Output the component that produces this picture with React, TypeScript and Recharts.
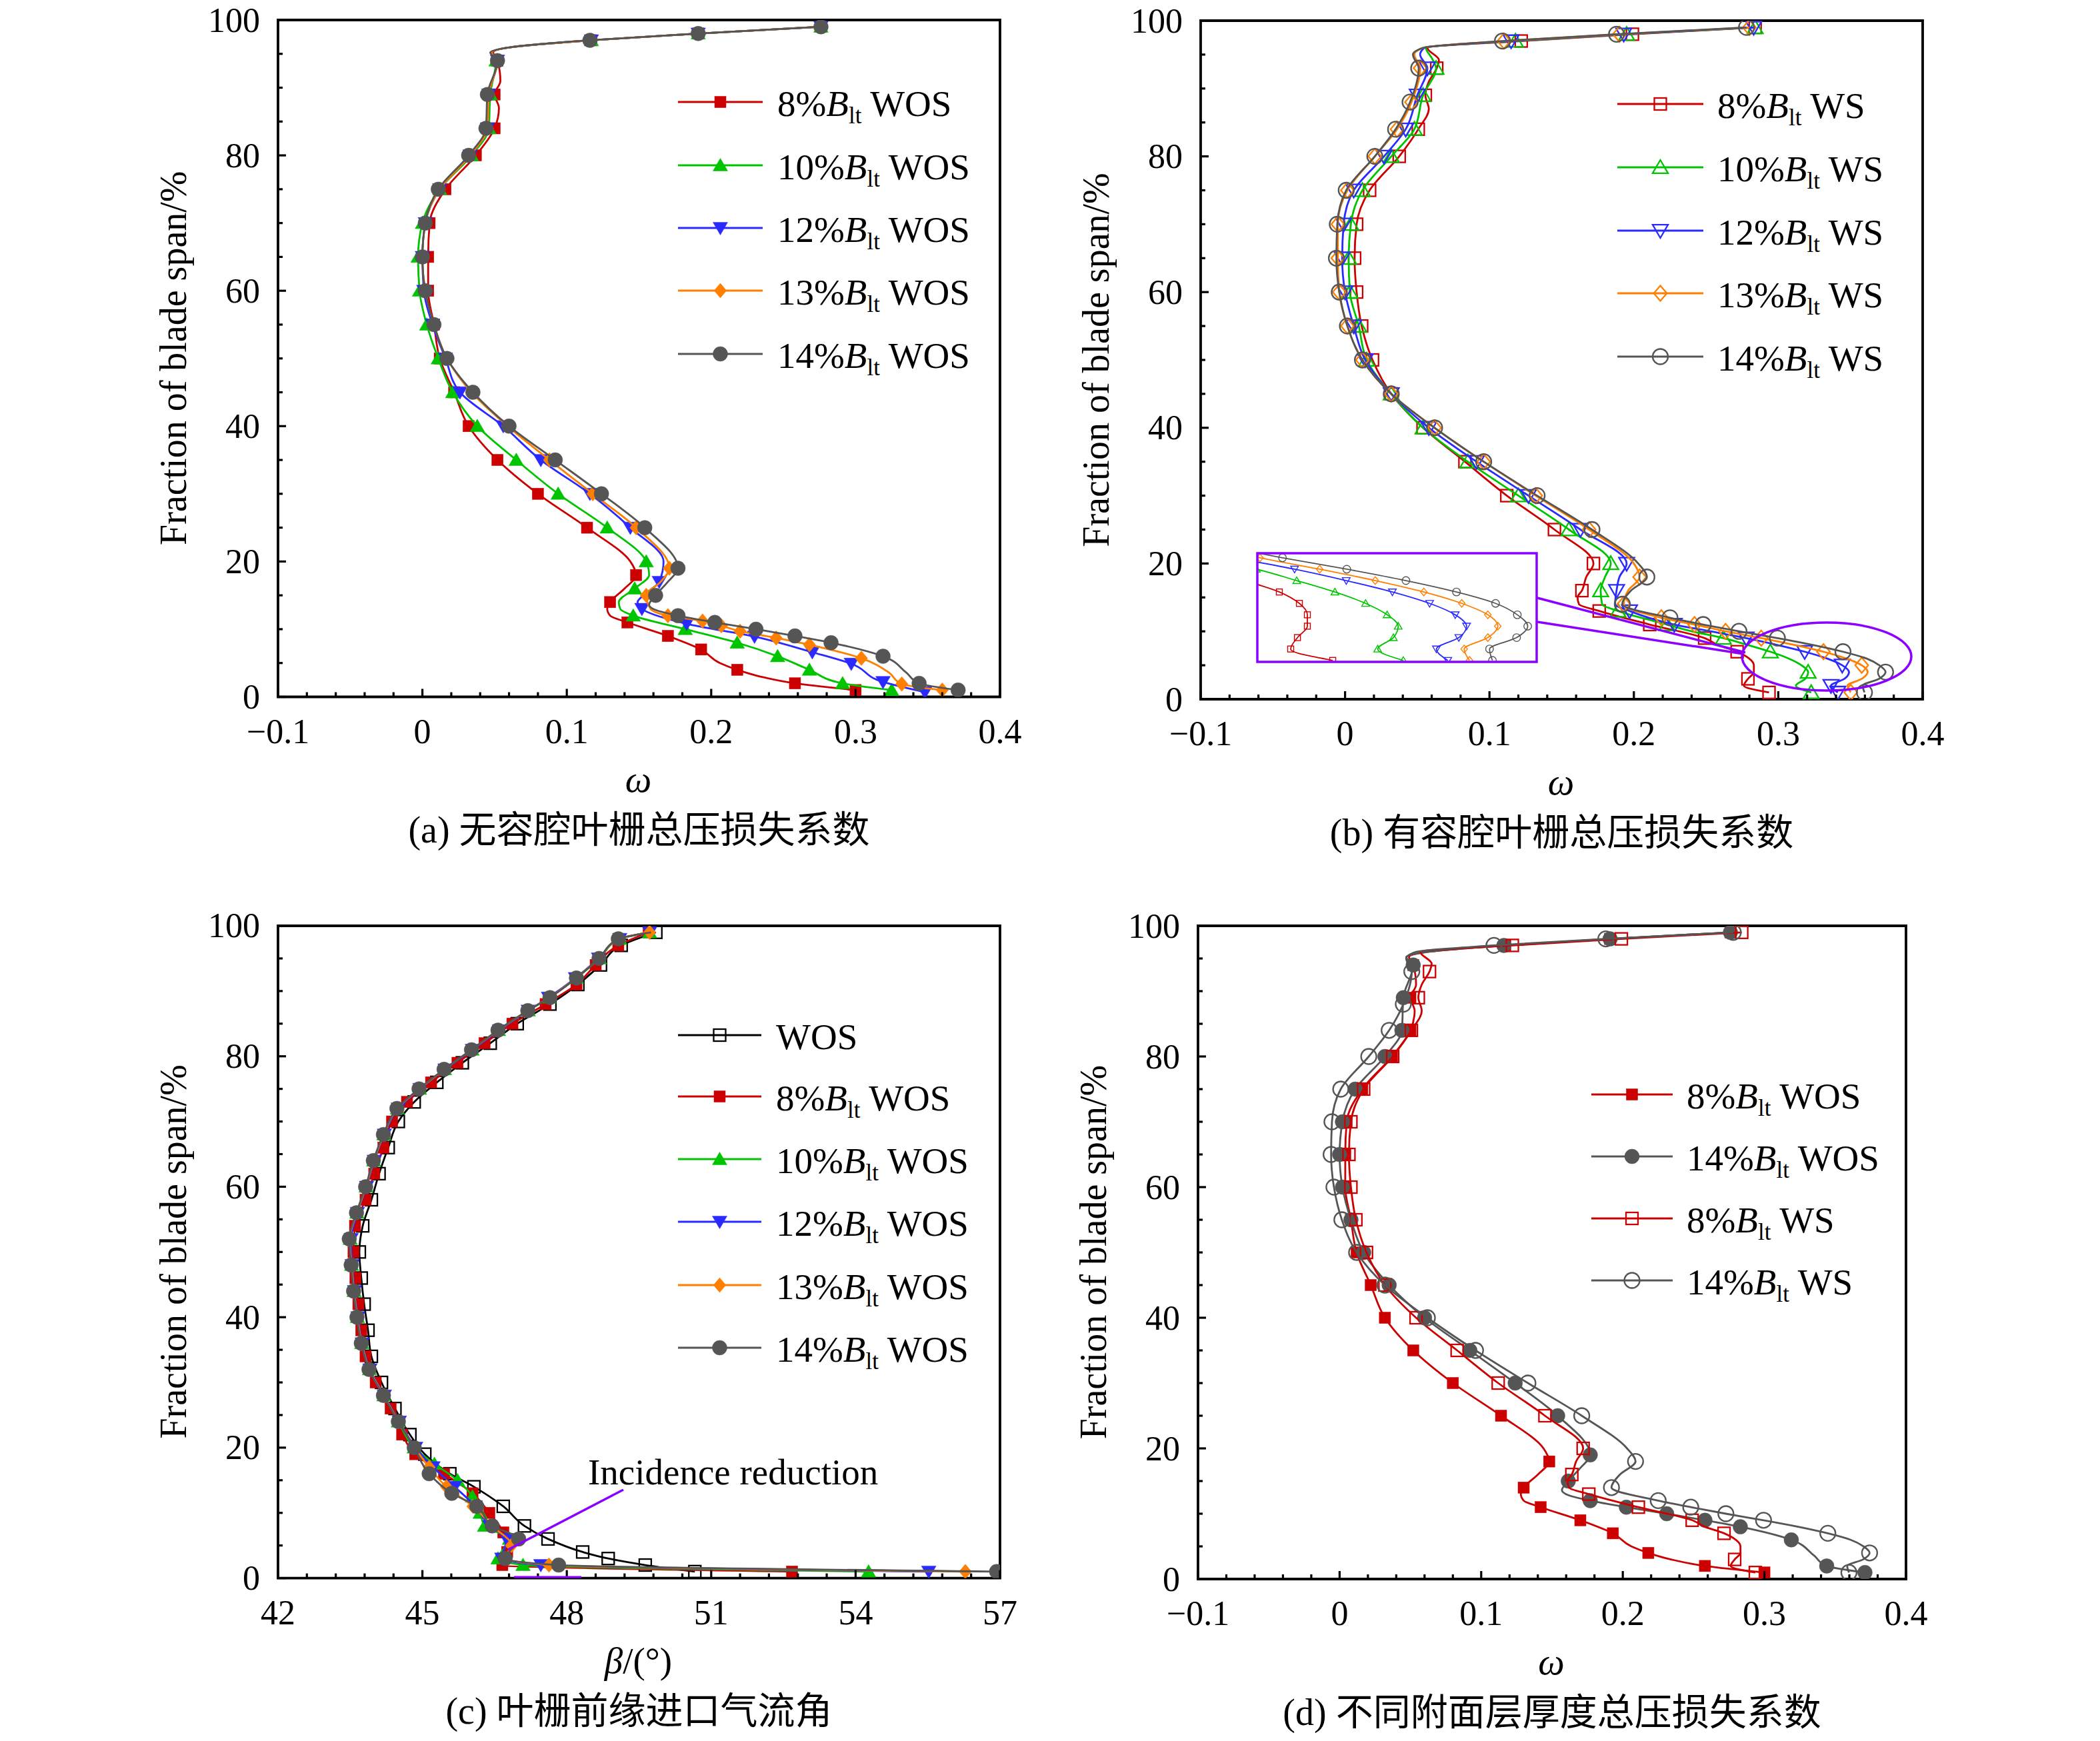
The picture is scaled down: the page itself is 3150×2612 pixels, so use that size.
import React from 'react';
import { ScatterChart, Scatter, XAxis, YAxis, ReferenceArea } from 'recharts';

// every profile point is [span %, value]
type P = [number, number];

// (a) total pressure loss, cascade without slot
const wos8: P[] = [
  [99, 0.276], [98, 0.191], [97, 0.117], [96, 0.062], [95.2, 0.049], [94, 0.052], [91, 0.054], [89, 0.05],
  [87, 0.053], [84, 0.05], [80, 0.037], [75, 0.016], [70, 0.005], [65, 0.004], [60, 0.004], [55, 0.008],
  [50, 0.012], [45, 0.022], [40, 0.032], [35, 0.052], [30, 0.08], [25, 0.114], [20, 0.144], [18, 0.148],
  [16, 0.14], [14, 0.13], [13, 0.128], [12, 0.13], [11, 0.142], [9, 0.17], [7, 0.193], [5, 0.206],
  [4, 0.218], [3, 0.234], [2, 0.258], [1, 0.3],
];
const wos8Marks = [99, 98, 97, 94, 89, 84, 80, 75, 70, 65, 60, 55, 50, 45, 40, 35, 30, 25, 18, 14, 11, 9, 7, 4, 2, 1];

const wos10: P[] = [
  [99, 0.276], [98, 0.191], [97, 0.117], [96, 0.062], [95.2, 0.048], [94, 0.051], [89, 0.047], [84, 0.046],
  [80, 0.034], [75, 0.012], [70, 0.0], [65, -0.003], [60, -0.002], [55, 0.003], [50, 0.011], [45, 0.021],
  [40, 0.038], [35, 0.065], [30, 0.094], [25, 0.128], [20, 0.155], [18, 0.157], [16, 0.147], [14, 0.136],
  [13, 0.137], [12, 0.146], [10, 0.182], [8, 0.218], [6, 0.246], [4, 0.268], [2, 0.291], [1, 0.325],
];
const wos10Marks = [99, 98, 97, 94, 89, 84, 80, 75, 70, 65, 60, 55, 50, 45, 40, 35, 30, 25, 20, 16, 12, 10, 8, 6, 4, 2, 1];

const wos12: P[] = [
  [99, 0.276], [98, 0.191], [97, 0.117], [96, 0.062], [95.2, 0.048], [94, 0.052], [89, 0.046], [84, 0.045],
  [80, 0.033], [75, 0.012], [70, 0.002], [65, 0.0], [60, 0.001], [55, 0.007], [50, 0.016], [45, 0.026],
  [40, 0.056], [35, 0.082], [30, 0.116], [25, 0.144], [20, 0.167], [17, 0.164], [15, 0.153], [14, 0.149],
  [13, 0.152], [10.8, 0.183], [8.9, 0.23], [6.6, 0.27], [4.9, 0.297], [2.2, 0.319], [0.7, 0.348],
];
const wos12Marks = [99, 98, 97, 94, 89, 84, 80, 75, 70, 65, 60, 55, 50, 45, 40, 35, 30, 25, 17, 13, 10.8, 8.9, 6.6, 4.9, 2.2, 0.7];

const wos13: P[] = [
  [99, 0.276], [98, 0.191], [97, 0.117], [96, 0.062], [95.2, 0.048], [94, 0.052], [89, 0.046], [84, 0.045],
  [80, 0.033], [75, 0.012], [70, 0.002], [65, 0.0], [60, 0.002], [55, 0.008], [50, 0.017], [45, 0.034],
  [40, 0.059], [35, 0.088], [30, 0.118], [25, 0.148], [19, 0.171], [17, 0.165], [15, 0.155], [13, 0.158],
  [12, 0.17], [11.2, 0.194], [10.5, 0.207], [9.7, 0.22], [8.7, 0.245], [7.7, 0.268], [5.7, 0.304],
  [3.6, 0.323], [1.9, 0.332], [1, 0.36],
];
const wos13Marks = [99, 98, 97, 94, 89, 84, 80, 75, 70, 65, 60, 55, 50, 45, 40, 35, 30, 25, 19, 15, 12, 11.2, 10.5, 9.7, 8.7, 7.7, 5.7, 1.9, 1];

const wos14: P[] = [
  [99, 0.276], [98, 0.191], [97, 0.116], [96, 0.062], [95.2, 0.047], [94, 0.052], [89, 0.045], [84, 0.044],
  [80, 0.032], [75, 0.011], [70, 0.002], [65, 0.0], [60, 0.002], [55, 0.008], [50, 0.017], [45, 0.035],
  [40, 0.06], [35, 0.092], [30, 0.124], [25, 0.154], [19, 0.177], [17, 0.17], [15, 0.1615], [13.6, 0.157],
  [12.8, 0.162], [12, 0.177], [11, 0.2025], [10, 0.231], [9, 0.258], [8, 0.283], [6, 0.319], [3.6, 0.335],
  [2, 0.344], [1, 0.371],
];
const wos14Marks = [99, 98, 97, 94, 89, 84, 80, 75, 70, 65, 60, 55, 50, 45, 40, 35, 30, 25, 19, 15, 12, 11, 10, 9, 8, 6, 2, 1];

// (b) total pressure loss, cascade with slot
const ws8: P[] = [
  [99, 0.284], [98, 0.199], [97, 0.122], [96, 0.057], [94.2, 0.065], [93, 0.0635], [91, 0.058], [89, 0.0556],
  [87, 0.058], [84, 0.0507], [80, 0.0375], [75, 0.017], [70, 0.008], [65, 0.0066], [60, 0.008], [55, 0.0115],
  [50, 0.019], [45, 0.032], [40, 0.054], [35, 0.083], [30, 0.112], [25, 0.145], [20, 0.172], [18, 0.167],
  [16, 0.164], [15, 0.161], [14, 0.162], [13, 0.176], [11, 0.211], [9, 0.249], [8, 0.258], [7, 0.2715],
  [6, 0.2798], [5, 0.2831], [4, 0.2831], [3, 0.279], [2, 0.2762], [1, 0.2936],
];
const ws8Marks = [99, 98, 97, 93, 89, 84, 80, 75, 70, 65, 60, 55, 50, 45, 40, 35, 30, 25, 20, 16, 13, 11, 9, 7, 3, 1];

const ws10: P[] = [
  [99, 0.284], [98, 0.195], [97, 0.118], [96, 0.056], [94.5, 0.06], [93, 0.063], [89, 0.054], [84, 0.048],
  [80, 0.032], [75, 0.012], [70, 0.004], [65, 0.0025], [60, 0.0033], [55, 0.0095], [50, 0.015], [45, 0.032],
  [40, 0.054], [35, 0.085], [30, 0.12], [25, 0.155], [20, 0.184], [18, 0.18], [16, 0.177], [14, 0.178],
  [13, 0.189], [11, 0.223], [10, 0.24], [9, 0.262], [8, 0.2787], [7, 0.2945], [6, 0.3072], [5, 0.3161],
  [4, 0.3207], [3, 0.3187], [2, 0.3122], [1, 0.3228],
];
const ws10Marks = [99, 98, 97, 93, 89, 84, 80, 75, 70, 65, 60, 55, 50, 45, 40, 35, 30, 25, 20, 16, 13, 11, 9, 7, 4, 1];

const ws12: P[] = [
  [99, 0.283], [98, 0.193], [97, 0.115], [96, 0.055], [95, 0.052], [93, 0.057], [89, 0.05], [84, 0.042],
  [80, 0.027], [75, 0.006], [70, -0.001], [65, -0.002], [60, 0.0], [55, 0.006], [50, 0.014], [45, 0.032],
  [40, 0.058], [35, 0.091], [30, 0.127], [25, 0.163], [20, 0.195], [18, 0.19], [16, 0.188], [14, 0.187],
  [13, 0.197], [11, 0.228], [10, 0.253], [9, 0.2778], [8, 0.2992], [7, 0.3183], [6, 0.3337], [5, 0.3443],
  [4, 0.349], [3, 0.3458], [2, 0.3365], [1, 0.3412],
];
const ws12Marks = [99, 98, 97, 93, 89, 84, 80, 75, 70, 65, 60, 55, 50, 45, 40, 35, 30, 25, 20, 16, 13, 11, 9, 7, 5, 2, 1];

const ws13: P[] = [
  [99, 0.28], [98, 0.19], [97, 0.11], [96, 0.054], [95, 0.048], [93, 0.052], [88, 0.046], [84, 0.036],
  [80, 0.0206], [75, 0.0016], [70, -0.005], [65, -0.005], [60, -0.004], [55, 0.0016], [50, 0.012], [45, 0.032],
  [40, 0.062], [35, 0.096], [30, 0.132], [25, 0.169], [20, 0.2], [18, 0.204], [16, 0.196], [14, 0.193],
  [12, 0.219], [11, 0.242], [10, 0.2635], [9, 0.2882], [8, 0.3112], [7, 0.3313], [6, 0.347], [5, 0.3578],
  [4, 0.3619], [3, 0.3578], [2, 0.348], [1, 0.3502],
];
const ws13Marks = [99, 98, 97, 93, 88, 84, 80, 75, 70, 65, 60, 55, 50, 45, 40, 35, 30, 25, 18, 14, 12, 11, 10, 9, 7, 5, 1];

const ws14: P[] = [
  [99, 0.278], [98, 0.188], [97, 0.109], [96, 0.054], [95, 0.047], [93, 0.051], [88, 0.045], [84, 0.035],
  [80, 0.0206], [75, 0.0008], [70, -0.0054], [65, -0.006], [60, -0.004], [55, 0.0016], [50, 0.012], [45, 0.032],
  [40, 0.062], [35, 0.096], [30, 0.133], [25, 0.171], [20, 0.203], [18, 0.209], [16, 0.198], [14, 0.192],
  [12, 0.225], [11, 0.248], [10, 0.2728], [9, 0.2994], [8, 0.3239], [7, 0.3448], [6, 0.361], [5, 0.37],
  [4, 0.3743], [3, 0.3697], [2, 0.3585], [1, 0.3597],
];
const ws14Marks = [99, 98, 97, 93, 88, 84, 80, 75, 70, 65, 60, 55, 50, 45, 40, 35, 30, 25, 18, 14, 12, 11, 10, 9, 7, 4, 1];

// (c) inlet flow angle beta (deg)
const betaWos: P[] = [
  [99, 49.85], [97, 49.13], [94, 48.7], [91, 48.23], [88, 47.65], [85, 46.97], [82, 46.41], [79, 45.83],
  [76, 45.3], [73, 44.83], [70, 44.5], [66, 44.29], [62, 44.1], [58, 43.94], [54, 43.76], [50, 43.69],
  [46, 43.73], [42, 43.79], [38, 43.87], [34, 43.94], [30, 44.15], [26, 44.43], [22, 44.74], [19, 45.05],
  [16, 45.57], [14, 46.07], [11, 46.68], [8, 47.12], [6, 47.61], [4, 48.33], [3, 48.86], [2, 49.63], [1, 50.66],
];
const beta8: P[] = [
  [99, 49.7], [97, 49.07], [94, 48.6], [91, 48.2], [88, 47.56], [85, 46.87], [82, 46.29], [79, 45.73],
  [76, 45.18], [73, 44.68], [70, 44.37], [66, 44.19], [62, 44.0], [58, 43.82], [54, 43.6], [50, 43.57],
  [46, 43.61], [42, 43.67], [38, 43.73], [34, 43.82], [30, 44.03], [26, 44.34], [22, 44.58], [19, 44.85],
  [16, 45.45], [13, 46.04], [10, 46.39], [7, 46.68], [4, 46.76], [2, 46.66], [1, 52.68],
];
const beta10: P[] = [
  [99, 49.72], [98, 49.1], [95, 48.68], [92, 48.2], [89, 47.63], [87, 47.2], [84, 46.58], [81, 46.03],
  [78, 45.46], [75, 44.94], [72, 44.48], [68, 44.2], [64, 43.99], [60, 43.83], [56, 43.64], [52, 43.5],
  [48, 43.53], [44, 43.58], [40, 43.65], [36, 43.74], [32, 43.9], [28, 44.2], [24, 44.5], [20, 44.83],
  [17.5, 45.25], [15, 45.73], [12.5, 46.04], [10, 46.2], [8, 46.29], [6, 46.81], [3, 46.57], [2, 47.09], [1, 54.27],
];
const beta12: P[] = [
  [99, 49.72], [98, 49.1], [95, 48.66], [92, 48.18], [89, 47.62], [87, 47.2], [84, 46.6], [81, 46.04],
  [78, 45.47], [75, 44.95], [72, 44.5], [68, 44.21], [64, 44.0], [60, 43.84], [56, 43.65], [52, 43.52],
  [48, 43.54], [44, 43.59], [40, 43.66], [36, 43.75], [32, 43.91], [28, 44.21], [24, 44.52], [20, 44.86],
  [17, 45.22], [14, 45.67], [11, 46.1], [8, 46.4], [6, 46.75], [3, 46.65], [2, 47.46], [1, 55.52],
];
const beta13: P[] = [
  [99, 49.72], [98, 49.09], [95, 48.67], [92, 48.19], [89, 47.64], [87, 47.19], [84, 46.58], [81, 46.02],
  [78, 45.46], [75, 44.94], [72, 44.48], [68, 44.2], [64, 43.99], [60, 43.83], [56, 43.64], [52, 43.49],
  [48, 43.53], [44, 43.58], [40, 43.65], [36, 43.74], [32, 43.9], [28, 44.2], [24, 44.51], [20, 44.84],
  [17, 45.14], [14, 45.5], [11, 46.05], [8, 46.45], [5, 46.85], [3, 46.7], [2, 47.63], [1, 56.28],
];
const beta14: P[] = [
  [99, 49.75], [98, 49.07], [95, 48.67], [92, 48.2], [89, 47.65], [87, 47.19], [84, 46.57], [81, 46.02],
  [78, 45.45], [75, 44.93], [72, 44.47], [68, 44.19], [64, 43.98], [60, 43.82], [56, 43.63], [52, 43.48],
  [48, 43.52], [44, 43.57], [40, 43.64], [36, 43.73], [32, 43.89], [28, 44.19], [24, 44.5], [20, 44.83],
  [16, 45.14], [13, 45.61], [11, 46.13], [8, 46.45], [6, 47.0], [3, 46.72], [2, 47.83], [1, 56.93],
];
const beta14Marks = [98, 95, 92, 89, 87, 84, 81, 78, 75, 72, 68, 64, 60, 56, 52, 48, 44, 40, 36, 32, 28, 24, 20, 16, 13, 11, 8, 6, 3, 2, 1];

// axis tick labels
const spanTicks = [0, 20, 40, 60, 80, 100];
const omegaTicks = [-0.1, 0, 0.1, 0.2, 0.3, 0.4];
const betaTicks = [42, 45, 48, 51, 54, 57];

const RED = '#cc0000';
const GREEN = '#00c400';
const BLUE = '#2a2aff';
const ORANGE = '#ff7f00';
const GRAY = '#555555';
const BLACK = '#000000';
const PURPLE = '#8b00ff';

const FONT = '"Liberation Serif", "Times New Roman", serif';
const CAPTION_FONT = '"Liberation Serif", "Noto Sans CJK SC", serif';

type Shape = 'square' | 'circle' | 'up' | 'down' | 'diamond';

interface Series {
  id: string;
  data: P[];
  marks?: number[];
  color: string;
  shape: Shape;
  filled: boolean;
  pct: string;
  tag: string;
}

const SIZE: Record<Shape, number> = { square: 17, circle: 22, up: 21, down: 21, diamond: 22 };

function Marker({ x, y, shape, color, filled, scale = 1 }: {
  x: number; y: number; shape: Shape; color: string; filled: boolean; scale?: number;
}) {
  const s = (SIZE[shape] + (filled ? 0 : 1)) * scale;
  const h = s / 2;
  const props = {
    fill: filled ? color : 'none',
    stroke: color,
    strokeWidth: filled ? 0.5 : 2.3 * Math.max(scale, 0.6),
  };
  if (shape === 'square') return <rect x={x - h} y={y - h} width={s} height={s} {...props} />;
  if (shape === 'circle') return <circle cx={x} cy={y} r={h} {...props} />;
  if (shape === 'up') {
    return <polygon points={`${x},${y - h} ${x + h * 1.05},${y + h * 0.8} ${x - h * 1.05},${y + h * 0.8}`} {...props} />;
  }
  if (shape === 'down') {
    return <polygon points={`${x},${y + h} ${x + h * 1.05},${y - h * 0.8} ${x - h * 1.05},${y - h * 0.8}`} {...props} />;
  }
  return <polygon points={`${x},${y - h} ${x + h * 0.85},${y} ${x},${y + h} ${x - h * 0.85},${y}`} {...props} />;
}

const A_SERIES: Series[] = [
  { id: 'a8', data: wos8, marks: wos8Marks, color: RED, shape: 'square', filled: true, pct: '8%', tag: 'WOS' },
  { id: 'a10', data: wos10, marks: wos10Marks, color: GREEN, shape: 'up', filled: true, pct: '10%', tag: 'WOS' },
  { id: 'a12', data: wos12, marks: wos12Marks, color: BLUE, shape: 'down', filled: true, pct: '12%', tag: 'WOS' },
  { id: 'a13', data: wos13, marks: wos13Marks, color: ORANGE, shape: 'diamond', filled: true, pct: '13%', tag: 'WOS' },
  { id: 'a14', data: wos14, marks: wos14Marks, color: GRAY, shape: 'circle', filled: true, pct: '14%', tag: 'WOS' },
];

const B_SERIES: Series[] = [
  { id: 'b8', data: ws8, marks: ws8Marks, color: RED, shape: 'square', filled: false, pct: '8%', tag: 'WS' },
  { id: 'b10', data: ws10, marks: ws10Marks, color: GREEN, shape: 'up', filled: false, pct: '10%', tag: 'WS' },
  { id: 'b12', data: ws12, marks: ws12Marks, color: BLUE, shape: 'down', filled: false, pct: '12%', tag: 'WS' },
  { id: 'b13', data: ws13, marks: ws13Marks, color: ORANGE, shape: 'diamond', filled: false, pct: '13%', tag: 'WS' },
  { id: 'b14', data: ws14, marks: ws14Marks, color: GRAY, shape: 'circle', filled: false, pct: '14%', tag: 'WS' },
];

const C_SERIES: Series[] = [
  { id: 'c0', data: betaWos, color: BLACK, shape: 'square', filled: false, pct: '', tag: 'WOS' },
  { id: 'c8', data: beta8, color: RED, shape: 'square', filled: true, pct: '8%', tag: 'WOS' },
  { id: 'c10', data: beta10, color: GREEN, shape: 'up', filled: true, pct: '10%', tag: 'WOS' },
  { id: 'c12', data: beta12, color: BLUE, shape: 'down', filled: true, pct: '12%', tag: 'WOS' },
  { id: 'c13', data: beta13, color: ORANGE, shape: 'diamond', filled: true, pct: '13%', tag: 'WOS' },
  { id: 'c14', data: beta14, marks: beta14Marks, color: GRAY, shape: 'circle', filled: true, pct: '14%', tag: 'WOS' },
];

const D_SERIES: Series[] = [
  { ...A_SERIES[0], id: 'd8o' },
  { ...A_SERIES[4], id: 'd14o' },
  { ...B_SERIES[0], id: 'd8s' },
  { ...B_SERIES[4], id: 'd14s' },
];

const toPts = (d: P[]) => d.map(([s, w]) => ({ s, w }));
const markedPts = (sr: Series) => (sr.marks ? sr.data.filter(([s]) => sr.marks!.includes(s)) : sr.data);

const withMinor = (majors: number[], per: number) => {
  const out: number[] = [];
  for (let i = 0; i < majors.length - 1; i++) {
    for (let k = 0; k < per; k++) out.push(+(majors[i] + ((majors[i + 1] - majors[i]) * k) / per).toFixed(6));
  }
  out.push(majors[majors.length - 1]);
  return out;
};
const isMajor = (list: number[], v: number) => list.some((m) => Math.abs(m - v) < 1e-6);
const fmt = (v: number) => (v < 0 ? '\u2212' + Math.abs(v) : String(v));

const ML = 180;
const MT = 40;
const MR = 60;
const MB = 100;

interface PanelProps {
  box: [number, number, number, number]; // plot left, top, width, height in page px
  xDomain: [number, number];
  xMajors: number[];
  series: Series[];
}

function Panel({ box, xDomain, xMajors, series }: PanelProps) {
  const [left, top, w, h] = box;
  const xTicks = withMinor(xMajors, 5);
  const yTicks = withMinor(spanTicks, 4);
  const bottom = MT + h;

  const xTick = (p: any) => {
    const v = p.payload.value;
    const major = isMajor(xMajors, v);
    return (
      <g>
        <line x1={p.x} x2={p.x} y1={bottom} y2={bottom - (major ? 12 : 7)} stroke="#000" strokeWidth={3.2} />
        {major && (
          <text x={p.x} y={bottom + 69} textAnchor="middle" fontFamily={FONT} fontSize={52} fill="#000">
            {fmt(v)}
          </text>
        )}
      </g>
    );
  };
  const yTick = (p: any) => {
    const v = p.payload.value;
    const major = isMajor(spanTicks, v);
    return (
      <g>
        <line x1={ML} x2={ML + (major ? 12 : 7)} y1={p.y} y2={p.y} stroke="#000" strokeWidth={3.2} />
        {major && (
          <text x={ML - 27} y={p.y + 17.5} textAnchor="end" fontFamily={FONT} fontSize={52} fill="#000">
            {fmt(v)}
          </text>
        )}
      </g>
    );
  };

  return (
    <div style={{ position: 'absolute', left: left - ML, top: top - MT }}>
      <ScatterChart width={ML + w + MR} height={MT + h + MB} margin={{ top: MT, right: MR, bottom: 0, left: 0 }}>
        <XAxis
          type="number"
          dataKey="w"
          domain={xDomain}
          allowDataOverflow
          ticks={xTicks}
          interval={0}
          tickSize={0}
          tickMargin={0}
          axisLine={false}
          tickLine={false}
          tick={xTick}
          height={MB}
        />
        <YAxis
          type="number"
          dataKey="s"
          domain={[0, 100]}
          allowDataOverflow
          ticks={yTicks}
          interval={0}
          tickSize={0}
          tickMargin={0}
          axisLine={false}
          tickLine={false}
          tick={yTick}
          width={ML}
        />
        <ReferenceArea
          x1={xDomain[0]}
          x2={xDomain[1]}
          y1={0}
          y2={100}
          fill="none"
          fillOpacity={0}
          stroke="#000"
          strokeWidth={3.8}
          strokeOpacity={1}
        />
        {series.flatMap((sr) => [
          <Scatter
            key={sr.id + '-line'}
            data={toPts(sr.data)}
            line={{ stroke: sr.color, strokeWidth: 2.8 }}
            lineJointType="monotoneY"
            shape={() => <g />}
            isAnimationActive={false}
          />,
          <Scatter
            key={sr.id + '-mark'}
            data={toPts(markedPts(sr))}
            shape={(p: any) => <Marker x={p.cx} y={p.cy} shape={sr.shape} color={sr.color} filled={sr.filled} />}
            isAnimationActive={false}
          />,
        ])}
      </ScatterChart>
    </div>
  );
}

// magnified view of the hub region of panel (b)
function Inset({ box }: { box: [number, number, number, number] }) {
  const [left, top, w, h] = box;
  return (
    <div style={{ position: 'absolute', left, top, width: w, height: h, background: '#fff' }}>
      <ScatterChart width={w} height={h} margin={{ top: 0, right: 0, bottom: 0, left: 0 }}>
        <XAxis type="number" dataKey="w" domain={[0.2624, 0.378]} allowDataOverflow hide height={0} />
        <YAxis type="number" dataKey="s" domain={[0.87, 10.4]} allowDataOverflow hide width={0} />
        {B_SERIES.flatMap((sr) => [
          <Scatter
            key={sr.id + '-iline'}
            data={toPts(sr.data)}
            line={{ stroke: sr.color, strokeWidth: 1.8 }}
            lineJointType="monotoneY"
            shape={() => <g />}
            isAnimationActive={false}
          />,
          <Scatter
            key={sr.id + '-imark'}
            data={toPts(sr.data.filter(([s]) => s <= 10))}
            shape={(p: any) => (
              <Marker x={p.cx} y={p.cy} shape={sr.shape} color={sr.color} filled={sr.filled} scale={0.5} />
            )}
            isAnimationActive={false}
          />,
        ])}
      </ScatterChart>
    </div>
  );
}

function LegendLabel({ x, y, pct, tag }: { x: number; y: number; pct: string; tag: string }) {
  return (
    <text x={x} y={y} fontFamily={FONT} fontSize={55} fill="#000">
      {pct ? (
        <>
          <tspan>{pct}</tspan>
          <tspan fontStyle="italic">B</tspan>
          <tspan fontSize={35} dy={11}>lt</tspan>
          <tspan dy={-11}>{' ' + tag}</tspan>
        </>
      ) : (
        tag
      )}
    </text>
  );
}

function LegendBlock({ series, rows, x0, x1, tx }: {
  series: Series[]; rows: number[]; x0: number; x1: number; tx: number;
}) {
  return (
    <g>
      {series.map((sr, i) => (
        <g key={sr.id}>
          <line x1={x0} x2={x1} y1={rows[i]} y2={rows[i]} stroke={sr.color} strokeWidth={2.8} />
          <Marker x={(x0 + x1) / 2} y={rows[i]} shape={sr.shape} color={sr.color} filled={sr.filled} />
          <LegendLabel x={tx} y={rows[i] + 21} pct={sr.pct} tag={sr.tag} />
        </g>
      ))}
    </g>
  );
}

const BOX_A: [number, number, number, number] = [417, 29.5, 1083, 1015.5];
const BOX_B: [number, number, number, number] = [1801, 31, 1083, 1018];
const BOX_C: [number, number, number, number] = [417, 1388.6, 1083, 978.6];
const BOX_D: [number, number, number, number] = [1797, 1388.6, 1062, 980];
const BOX_INSET: [number, number, number, number] = [1886, 830, 419, 163];

function YTitle({ box }: { box: [number, number, number, number] }) {
  const [l, t, , h] = box;
  return (
    <text
      transform={`translate(${l - 157},${t + h / 2}) rotate(-90)`}
      textAnchor="middle"
      dominantBaseline="central"
      fontFamily={FONT}
      fontSize={56}
      fill="#000"
    >
      Fraction of blade span/%
    </text>
  );
}

function Caption({ box, text }: { box: [number, number, number, number]; text: string }) {
  return (
    <text
      x={box[0] + box[2] / 2}
      y={box[1] + box[3] + 219}
      textAnchor="middle"
      fontFamily={CAPTION_FONT}
      fontSize={56}
      fill="#000"
    >
      {text}
    </text>
  );
}

function Overlay() {
  const omega = (box: [number, number, number, number]) => (
    <text
      x={box[0] + box[2] / 2 - 1}
      y={box[1] + box[3] + 143}
      textAnchor="middle"
      fontFamily={FONT}
      fontStyle="italic"
      fontSize={56}
      fill="#000"
    >
      ω
    </text>
  );
  return (
    <svg
      width={3150}
      height={2612}
      style={{ position: 'absolute', left: 0, top: 0, pointerEvents: 'none' }}
    >
      <YTitle box={BOX_A} />
      <YTitle box={BOX_B} />
      <YTitle box={BOX_C} />
      <YTitle box={BOX_D} />

      {omega(BOX_A)}
      {omega(BOX_B)}
      {omega(BOX_D)}
      <text x={BOX_C[0] + BOX_C[2] / 2 - 1} y={BOX_C[1] + BOX_C[3] + 143} textAnchor="middle" fontFamily={FONT} fontSize={55} fill="#000">
        <tspan fontStyle="italic">β</tspan>
        <tspan>/(°)</tspan>
      </text>

      <Caption box={BOX_A} text="(a) 无容腔叶栅总压损失系数" />
      <Caption box={BOX_B} text="(b) 有容腔叶栅总压损失系数" />
      <Caption box={BOX_C} text="(c) 叶栅前缘进口气流角" />
      <Caption box={BOX_D} text="(d) 不同附面层厚度总压损失系数" />

      <LegendBlock series={A_SERIES} rows={[153, 248, 342, 436, 531]} x0={1017} x1={1144} tx={1166} />
      <LegendBlock series={B_SERIES} rows={[156, 251, 346, 440, 535]} x0={2426} x1={2555} tx={2576} />
      <LegendBlock series={C_SERIES} rows={[1553, 1645, 1739, 1833, 1928, 2022]} x0={1017} x1={1142} tx={1164} />
      <LegendBlock series={D_SERIES} rows={[1642, 1735, 1828, 1921]} x0={2387} x1={2509} tx={2530} />

      {/* inset frame and its leader lines in panel (b) */}
      <rect x={BOX_INSET[0]} y={BOX_INSET[1]} width={BOX_INSET[2]} height={BOX_INSET[3]} fill="none" stroke={PURPLE} strokeWidth={3.5} />
      <line x1={2306} y1={897} x2={2618} y2={979} stroke={PURPLE} strokeWidth={3.5} />
      <line x1={2306} y1={933} x2={2615} y2={981} stroke={PURPLE} strokeWidth={3.5} />
      <ellipse cx={2740} cy={985} rx={127} ry={51} fill="none" stroke={PURPLE} strokeWidth={3.5} />

      {/* annotation in panel (c) */}
      <text x={882} y={2227} fontFamily={FONT} fontSize={55} fill="#000">
        Incidence reduction
      </text>
      <line x1={935} y1={2235} x2={762} y2={2325} stroke={PURPLE} strokeWidth={3.5} />
      <line x1={771} y1={2366} x2={872} y2={2366} stroke={PURPLE} strokeWidth={3} />
    </svg>
  );
}

export default function App() {
  return (
    <div style={{ position: 'absolute', left: 0, top: 0, width: 3150, height: 2612, background: '#fff', overflow: 'hidden' }}>
      <Panel box={BOX_A} xDomain={[-0.1, 0.4]} xMajors={omegaTicks} series={A_SERIES} />
      <Panel box={BOX_B} xDomain={[-0.1, 0.4]} xMajors={omegaTicks} series={B_SERIES} />
      <Panel box={BOX_C} xDomain={[42, 57]} xMajors={betaTicks} series={C_SERIES} />
      <Panel box={BOX_D} xDomain={[-0.1, 0.4]} xMajors={omegaTicks} series={D_SERIES} />
      <Inset box={BOX_INSET} />
      <Overlay />
    </div>
  );
}
